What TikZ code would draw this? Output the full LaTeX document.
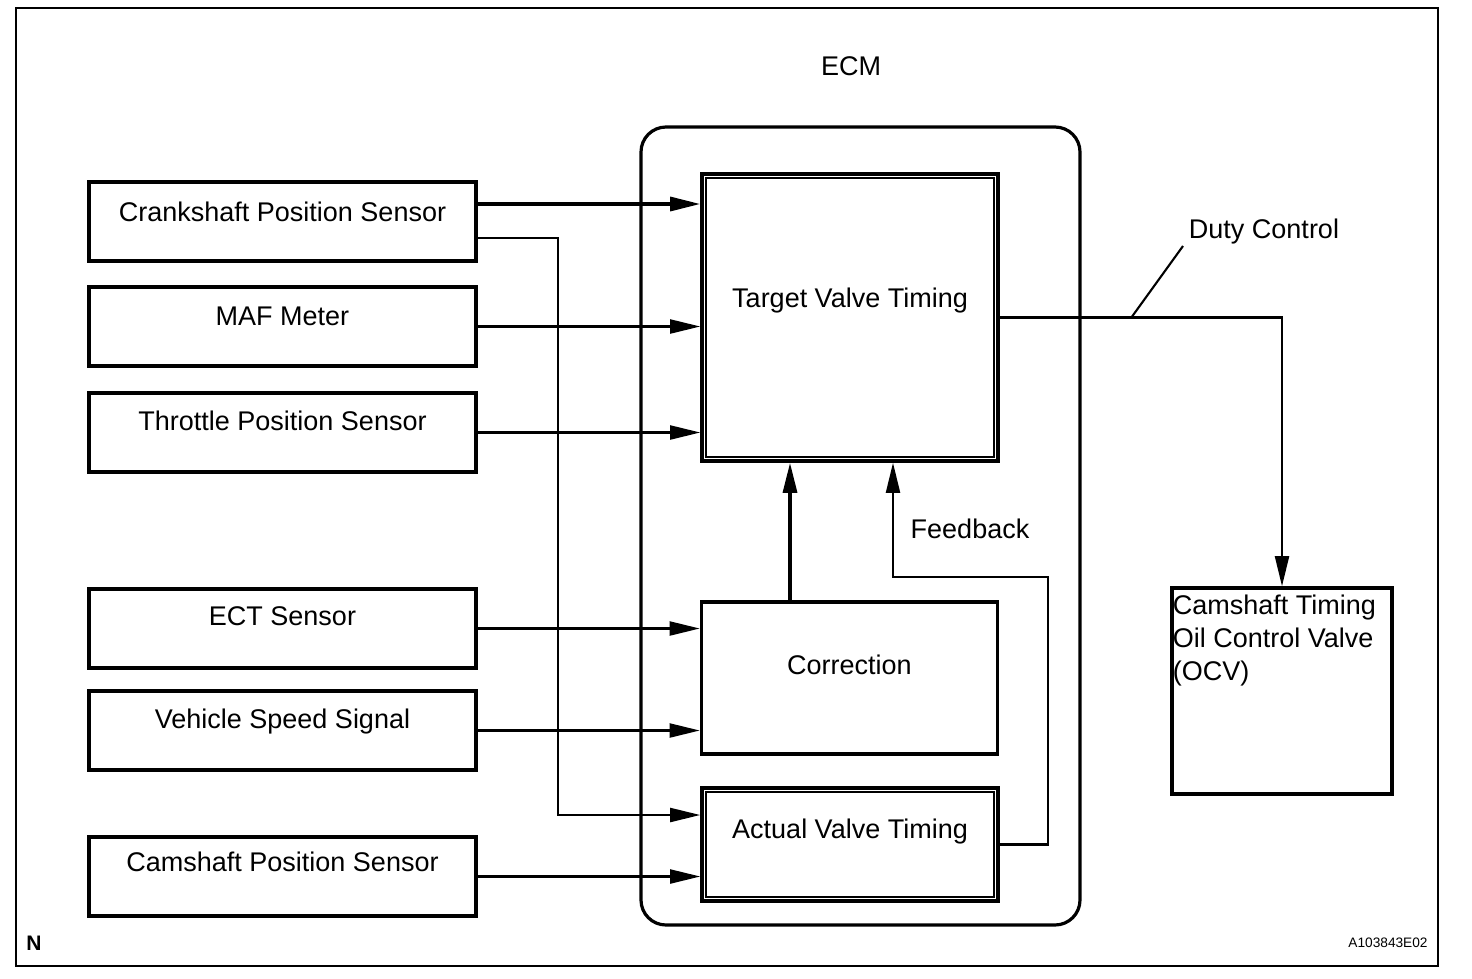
\documentclass[tikz,border=0pt]{standalone}
\usepackage{fontspec}
\setmainfont{Liberation Sans}
\usetikzlibrary{arrows.meta,calc}

\begin{document}
\begin{tikzpicture}[x=1pt,y=-1pt,
  font=\fontsize{27}{33}\selectfont,
  sensorbox/.style={draw,line width=3.6pt,minimum width=387pt,minimum height=79pt,inner sep=0pt,text depth=24pt},
  blockbox/.style={draw,line width=3.6pt,minimum width=296pt,inner sep=0pt},
  innerline/.style={line width=2.2pt},
  sig/.style={line width=2.1pt,-{Triangle[length=30pt,width=14pt]}},
  sigthick/.style={sig,line width=3.2pt},
]
\useasboundingbox (0,0) rectangle (1472,978);
\draw[line width=2pt] (16,8) rectangle (1438,966);

% sensors
\node[sensorbox,text depth=19pt] (crank) at (282.5,221.5) {Crankshaft Position Sensor};
\node[sensorbox,text depth=21pt] (maf) at (282.5,326.5) {MAF Meter};
\node[sensorbox] (tps) at (282.5,432.5) {Throttle Position Sensor};
\node[sensorbox] (ect) at (282.5,628.5) {ECT Sensor};
\node[sensorbox,text depth=23pt] (vss) at (282.5,730.5) {Vehicle Speed Signal};
\node[sensorbox,text depth=29pt] (cmp) at (282.5,876.5) {Camshaft Position Sensor};

% ECM
\node[draw,line width=3.2pt,rounded corners=25pt,minimum width=439pt,minimum height=798pt] (ecm) at (860.5,526) {};
\node (ecmlabel) at (851,66) {ECM};
\node[blockbox,minimum height=287pt,text depth=39pt] (target) at (850,317.5) {Target Valve Timing};
\draw[innerline] ([shift={(6,6)}]target.north west) rectangle ([shift={(-6,-6)}]target.south east);
\node[blockbox,minimum height=152pt,text depth=26pt] (corr) at (849.5,678) {Correction};
\node[blockbox,minimum height=113pt,text depth=31pt] (actual) at (850,844.5) {Actual Valve Timing};
\draw[innerline] ([shift={(6,6)}]actual.north west) rectangle ([shift={(-6,-6)}]actual.south east);
\node (fbtext) at (970,529) {Feedback};

% OCV
\node[draw,line width=3.6pt,minimum width=220pt,minimum height=206pt] (ocv) at (1282,691) {};
\node[anchor=north west,align=left,inner sep=0pt] (ocvtext) at ([shift={(2.5,9)}]ocv.north west) {Camshaft Timing\\Oil Control Valve\\(OCV)};
\node (duty) at (1264,232) {Duty Control};

% signals
\draw[sigthick] (crank.east |- 0,204) -- (target.west |- 0,204);
\draw[sig] (crank.east |- 0,238) -| (558,815) -- (actual.west |- 0,815);
\draw[sig] (maf.east) -- (target.west |- maf.east);
\draw[sig] (tps.east) -- (target.west |- tps.east);
\draw[sig] (ect.east) -- (corr.west |- ect.east);
\draw[sig] (vss.east) -- (corr.west |- vss.east);
\draw[sig] (cmp.east) -- (actual.west |- cmp.east);
\draw[sigthick] (corr.north -| 790,0) -- (target.south -| 790,0);
\draw[sig] (actual.east) -| (1048,577) -| (target.south -| 893,0);
\draw[sig] (target.east) -| (ocv.north);
\coordinate (dutytick) at (1131,318);
\draw[line width=2.1pt] (dutytick) -- (1183,246);

\node[font=\fontsize{21}{24}\selectfont\bfseries] (nmark) at (34,943) {N};
\node[font=\fontsize{13.7}{16}\selectfont] (figid) at (1388,943) {A103843E02};
\end{tikzpicture}
\end{document}
